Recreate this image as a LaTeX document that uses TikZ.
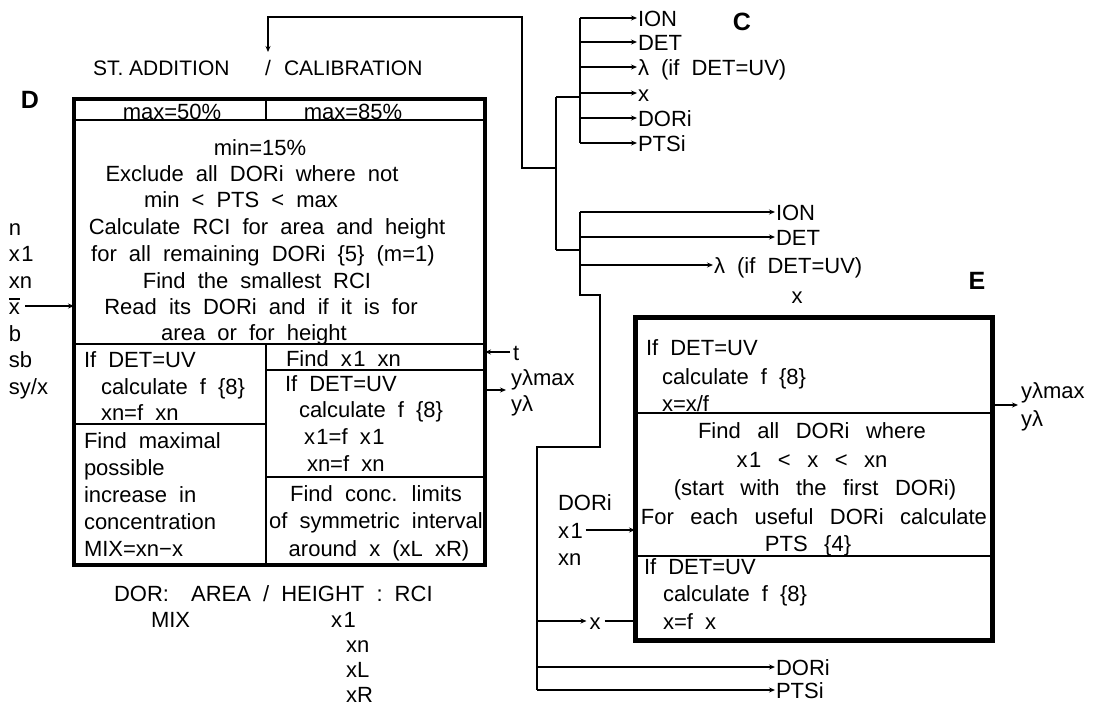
\documentclass[tikz,border=0pt]{standalone}
\usepackage{fontspec}
\setmainfont{Liberation Sans}
\usetikzlibrary{arrows.meta}
\newcommand\tf{\fontsize{22}{27}\selectfont\spaceskip=0.55em plus 0.1em\relax}
\newcommand\tfw{\fontsize{22}{27}\selectfont\spaceskip=0.75em plus 0.1em\relax}
\newcommand\tfh{\fontsize{21}{27}\selectfont}
\newcommand\xone{x\kern1.5pt1}
\newcommand\xbr{\makebox[0pt][l]{\rule[14.5pt]{11pt}{1.6pt}}x}
\begin{document}
\begin{tikzpicture}[x=1pt,y=-1pt,line width=2pt,
  arr/.style={-{Stealth[length=6pt,width=5pt]}},
  tl/.style={font=\tf,inner sep=0pt,text height=16pt,text depth=0pt,anchor=west},
  tc/.style={tl,anchor=center},
  tw/.style={tc,font=\tfw},
  lab/.style={font=\fontsize{25}{25}\selectfont\bfseries,inner sep=0pt},
  bigbox/.style={draw,line width=4.5pt,inner sep=0pt,outer sep=0pt}]
\useasboundingbox (0,0) rectangle (1095,705);

% heading
\node[tl,font=\tfh] (st) at (92,67) {ST. ADDITION};
\node[tc,font=\tfh] (slash) at (268,67) {/};
\node[tl,font=\tfh] (cal) at (283,67) {CALIBRATION};

% junction
\coordinate (jm) at (556,168);
\coordinate (jt) at (556,97);
\coordinate (jb) at (556,250);
\coordinate (cb1) at (580,97);
\coordinate (cb2) at (580,250);
\coordinate (k1) at (522,168);
\coordinate (k2) at (522,17);
\draw (jt) -- (jb);
\draw (jt) -- (cb1);
\draw (jb) -- (cb2);
\draw[arr,shorten >=6pt] (jm) -- (k1) -- (k2) -| (slash.north);

% list C
\node[lab] (Clab) at (742,22) {C};
\foreach \n/\yy/\s in {c1/18/{ION},c2/42/{DET},c3/67/{λ (if DET=UV)},c4/93/{x},c5/118/{DORi},c6/143/{PTSi}}{
  \node[tl] (\n) at (637,\yy) {\s};
  \draw[arr] (\n.west -| cb1) -- (\n.west);
}
\draw (c1.west -| cb1) -- (c6.west -| cb1);

% second list
\node[tl] (d1) at (775,212) {ION};
\node[tl] (d2) at (775,237) {DET};
\node[tl] (d3) at (713,265) {λ (if DET=UV)};
\node[tc] (d4) at (797,295) {x};
\coordinate (b2t) at (580,212);
\coordinate (b2b) at (580,295);
\coordinate (s1) at (600,295);
\coordinate (s2) at (600,447);
\coordinate (s3) at (537,447);
\coordinate (b3b) at (537,690);
\draw[arr] (b2t) -- (d1.west);
\draw[arr] (d2.west -| b2t) -- (d2.west);
\draw[arr] (d3.west -| b2t) -- (d3.west);
\draw (b2t) -- (b2b) -- (s1) -- (s2) -- (s3) -- (b3b);
\node[tl] (e1) at (775,667) {DORi};
\node[tl] (e2) at (775,690) {PTSi};
\draw[arr] (e1.west -| b3b) -- (e1.west);
\draw[arr] (b3b) -- (e2.west);

% box E
\node[lab] (Elab) at (977,281) {E};
\node[bigbox,line width=5pt,minimum width=357pt,minimum height=323pt] (E) at (813.5,478.5) {};
\coordinate (ed1) at (0,413);
\coordinate (ed2) at (0,556);
\draw (E.west |- ed1) -- (E.east |- ed1);
\draw (E.west |- ed2) -- (E.east |- ed2);
\node[tl] (ea1) at (645,347) {If DET=UV};
\node[tl] (ea2) at (661,376) {calculate f \{8\}};
\node[tl] (ea3) at (661,403) {x=x/f};
\node[tw] (eb1) at (812,430) {Find all DORi where};
\node[tw] (eb2) at (812,459) {\xone\ < x < xn};
\node[tw] (eb3) at (815,487) {(start with the first DORi)};
\node[tw] (eb4) at (814,516) {For each useful DORi calculate};
\node[tw] (eb5) at (808,543) {PTS \{4\}};
\node[tl] (ec1) at (643,566) {If DET=UV};
\node[tl] (ec2) at (662,593) {calculate f \{8\}};
\node[tl] (ec3) at (662,621) {x=f x};
% E inputs / outputs
\node[tl] (eDORi) at (557,502) {DORi};
\node[tl] (ex1) at (557,530) {\xone};
\node[tl] (exn) at (557,557) {xn};
\draw[arr,shorten <=2pt] (ex1.east) -- (ex1.east -| E.west);
\node[tc] (ex) at (595,621) {x};
\draw[arr,shorten >=2pt] (ex.west -| b3b) -- (ex.west);
\draw[shorten <=3pt] (ex.east) -- (ex.east -| E.west);
\coordinate (eo) at (1018,405);
\draw[arr] (E.east |- eo) -- (eo);
\node[tl] (eymax) at (1020,390) {yλmax};
\node[tl] (ey) at (1020,418) {yλ};

% box D
\node[lab] (Dlab) at (30,100) {D};
\node[bigbox,minimum width=411pt,minimum height=466pt] (D) at (279.5,332) {};
\coordinate (r1) at (0,120);
\coordinate (r2) at (0,344);
\coordinate (r3) at (0,424);
\coordinate (r4) at (0,370);
\coordinate (r5) at (0,477);
\coordinate (mt) at (266,99);
\coordinate (mb) at (266,565);
\draw (D.west |- r1) -- (D.east |- r1);
\draw (mt) -- (mt |- r1);
\draw (D.west |- r2) -- (D.east |- r2);
\draw (mt |- r2) -- (mb);
\draw (D.west |- r3) -- (mt |- r3);
\draw (mt |- r4) -- (D.east |- r4);
\draw (mt |- r5) -- (D.east |- r5);
\node[tc] (m50) at (172,111) {max=50\%};
\node[tc] (m85) at (353,111) {max=85\%};
\foreach \n/\xx/\yy/\s in {a1/260/147/{min=15\%},a2/252/173/{Exclude all DORi where not},a3/241/199/{min < PTS < max},a4/267/226/{Calculate RCI for area and height},a5/263/253/{for all remaining DORi \{5\} (m=1)},a6/257/280/{Find the smallest RCI},a7/261/306/{Read its DORi and if it is for},a8/254/332/{area or for height}}{
  \node[tc] (\n) at (\xx,\yy) {\s};
}
% left column
\node[tl] (l1) at (83,359) {If DET=UV};
\node[tl] (l2) at (100,386) {calculate f \{8\}};
\node[tl] (l3) at (100,412) {xn=f xn};
\node[tl] (l4) at (83,440) {Find maximal};
\node[tl] (l5) at (83,467) {possible};
\node[tl] (l6) at (83,494) {increase in};
\node[tl] (l7) at (83,521) {concentration};
\node[tl] (l8) at (83,548) {MIX=xn−x};
% right column
\node[tl] (q1) at (285,358) {Find \xone\ xn};
\node[tl] (q2) at (284,383) {If DET=UV};
\node[tl] (q3) at (298,409) {calculate f \{8\}};
\node[tl] (q4) at (303,436) {\xone=f \xone};
\node[tl] (q5) at (306,463) {xn=f xn};
\node[tc] (q6) at (376,493) {Find conc. limits};
\node[tc] (q7) at (376,520) {of symmetric interval};
\node[tc] (q8) at (379,548) {around x (xL xR)};
% left inputs
\node[tl] (in1) at (8,227) {n};
\node[tl] (in2) at (8,253) {\xone};
\node[tl] (in3) at (8,280) {xn};
\node[tl] (in4) at (8,306) {\xbr};
\node[tl] (in5) at (8,333) {b};
\node[tl] (in6) at (8,359) {sb};
\node[tl] (in7) at (8,386) {sy/x};
\draw[arr,shorten <=4pt] (in4.east) -- (in4.east -| D.west);
% right side of D
\node[tl] (tin) at (512,352) {t};
\draw[arr,shorten <=2pt] (tin.west) -- (tin.west -| D.east);
\coordinate (dyo) at (506,390);
\draw[arr] (D.east |- dyo) -- (dyo);
\node[tl] (dymax) at (510,377) {yλmax};
\node[tl] (dy) at (510,403) {yλ};
% below D
\node[tl] (dor) at (113,593) {DOR:\hspace{10pt} AREA / HEIGHT : RCI};
\node[tl] (mix) at (150,619) {MIX};
\node[tl] (bx1) at (330,619) {\xone};
\node[tl] (bxn) at (345,644) {xn};
\node[tl] (bxl) at (345,669) {xL};
\node[tl] (bxr) at (345,694) {xR};
\end{tikzpicture}
\end{document}
